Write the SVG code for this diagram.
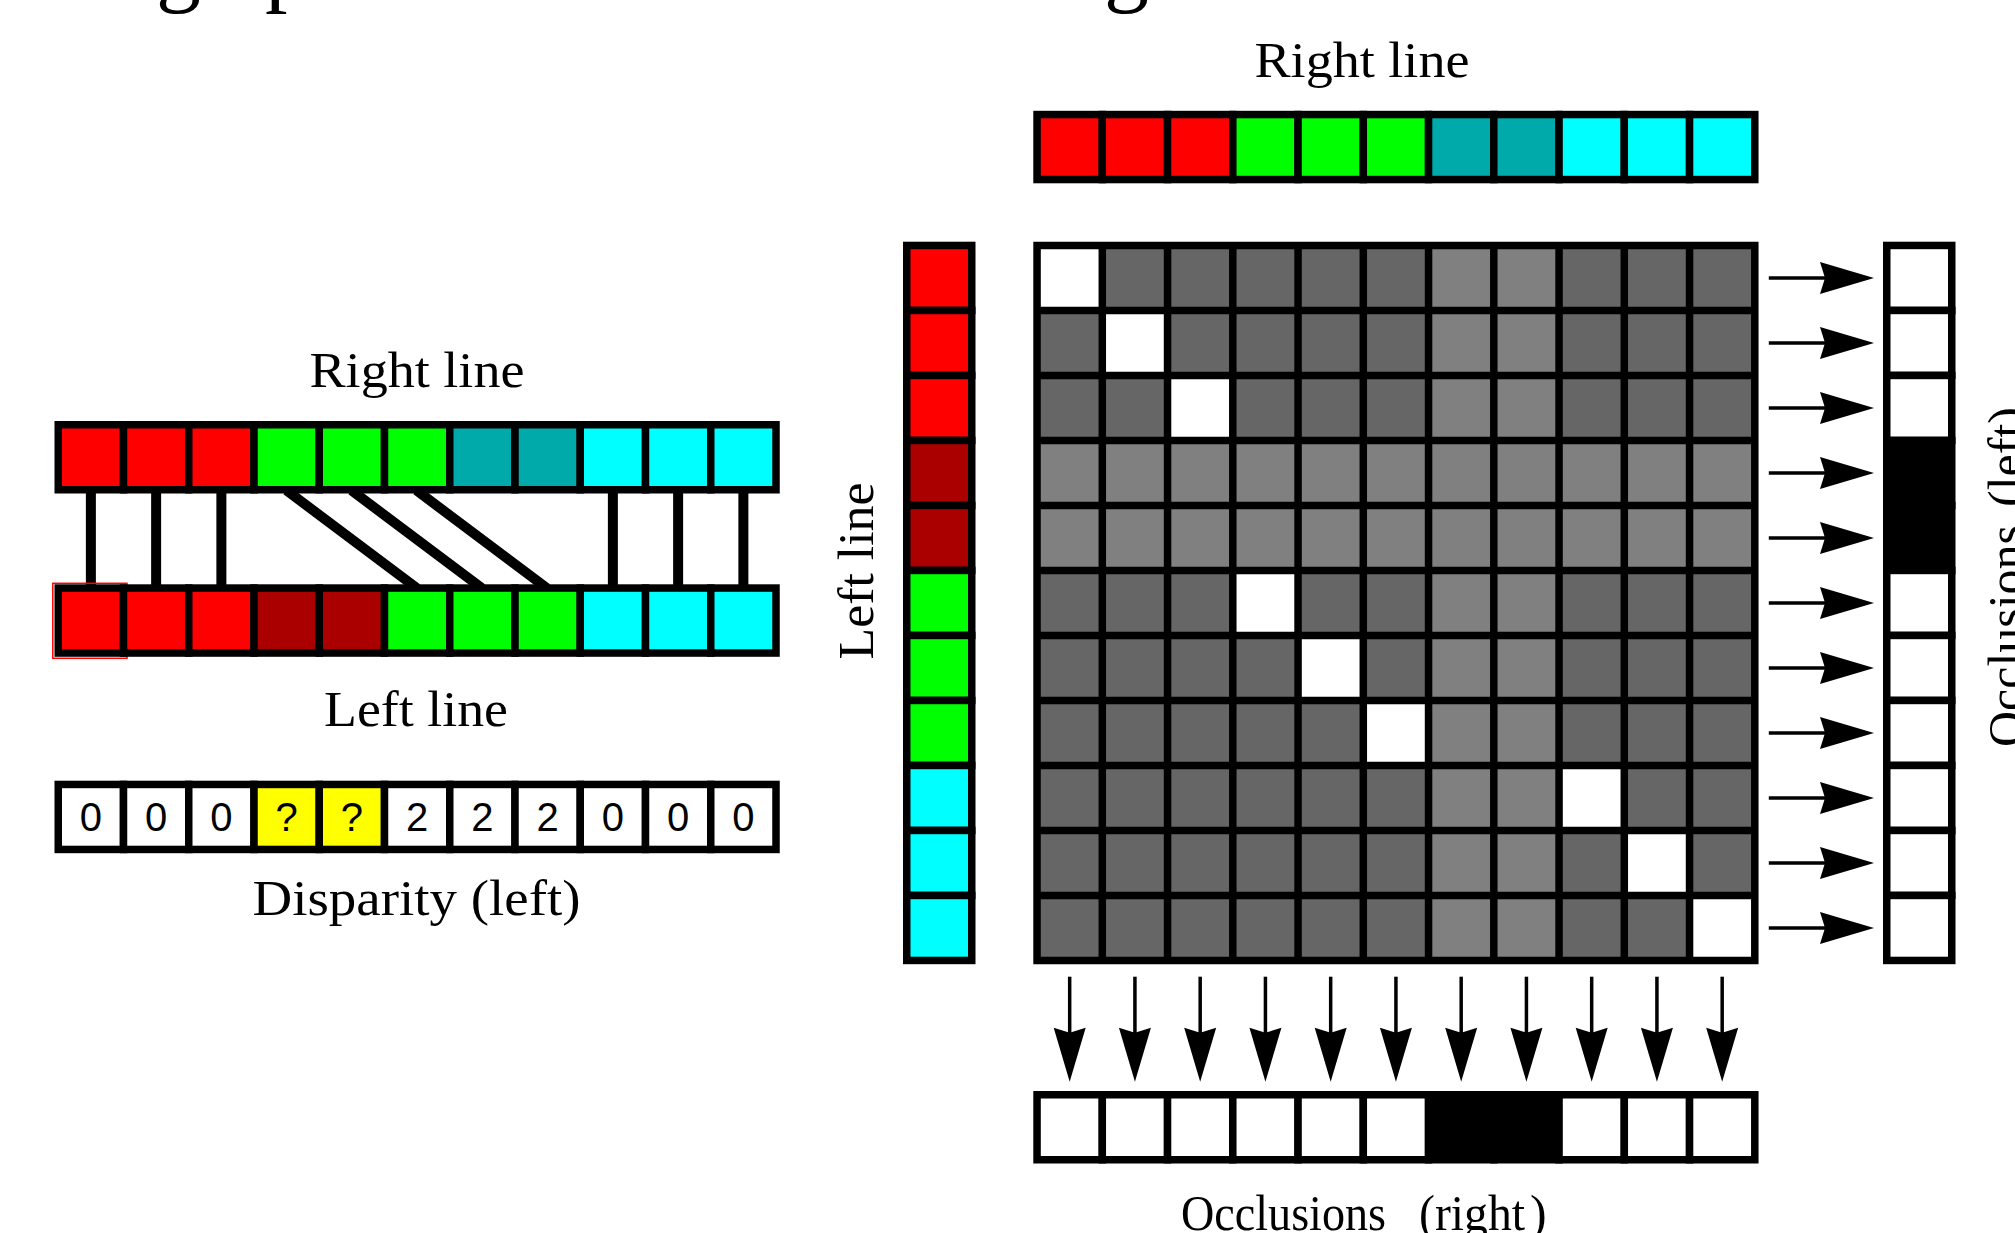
<svg xmlns="http://www.w3.org/2000/svg" width="2015" height="1233" viewBox="0 0 2015 1233">
<style>
.c{stroke:#000;stroke-width:7.5}
.R{fill:#ff0000}.G{fill:#00ff00}.T{fill:#00aaaa}.C{fill:#00ffff}.D{fill:#aa0000}
.W{fill:#ffffff}.K{fill:#000000}.Y{fill:#ffff00}
.lab{font-family:"Liberation Serif","Times New Roman",serif;font-size:50px;fill:#000}
.num{font-family:"Liberation Sans",Arial,sans-serif;font-size:40px;fill:#000;text-anchor:middle}
.link{stroke:#000;stroke-width:10;fill:none}
.arr{stroke:#000;stroke-width:3.5;fill:none}
</style>
<defs>
<marker id="ah" viewBox="-10 -18 58 36" refX="0" refY="0" markerWidth="58" markerHeight="36" markerUnits="userSpaceOnUse" orient="auto">
<path d="M46,0 L-8,-16 L-3,0 L-8,16 Z" fill="#000"/>
</marker>
</defs>
<rect width="2015" height="1233" fill="#fff"/>

<g id="title-fragments" class="lab" style="font-size:90px">
<text x="156" y="-5.5">g</text>
<text x="265" y="-5.5">p</text>
<text x="1104" y="-5.5">g</text>
</g>

<g id="connectors">
<g id="links">
<line class="link" x1="90.88" y1="490" x2="90.88" y2="590"/>
<line class="link" x1="156.13" y1="490" x2="156.13" y2="590"/>
<line class="link" x1="221.38" y1="490" x2="221.38" y2="590"/>
<line class="link" x1="286.4" y1="490.3" x2="417" y2="588.3"/>
<line class="link" x1="351.4" y1="490.3" x2="482" y2="588.3"/>
<line class="link" x1="416.4" y1="490.3" x2="547" y2="588.3"/>
<line class="link" x1="612.88" y1="490" x2="612.88" y2="590"/>
<line class="link" x1="678.13" y1="490" x2="678.13" y2="590"/>
<line class="link" x1="743.38" y1="490" x2="743.38" y2="590"/>
</g>
<g id="row-arrows" marker-end="url(#ah)">
<line class="arr" x1="1768.8" y1="277.95" x2="1828" y2="277.95"/>
<line class="arr" x1="1768.8" y1="342.95" x2="1828" y2="342.95"/>
<line class="arr" x1="1768.8" y1="407.95" x2="1828" y2="407.95"/>
<line class="arr" x1="1768.8" y1="472.95" x2="1828" y2="472.95"/>
<line class="arr" x1="1768.8" y1="537.95" x2="1828" y2="537.95"/>
<line class="arr" x1="1768.8" y1="602.95" x2="1828" y2="602.95"/>
<line class="arr" x1="1768.8" y1="667.95" x2="1828" y2="667.95"/>
<line class="arr" x1="1768.8" y1="732.95" x2="1828" y2="732.95"/>
<line class="arr" x1="1768.8" y1="797.95" x2="1828" y2="797.95"/>
<line class="arr" x1="1768.8" y1="862.95" x2="1828" y2="862.95"/>
<line class="arr" x1="1768.8" y1="927.95" x2="1828" y2="927.95"/>
</g>
<g id="col-arrows" marker-end="url(#ah)">
<line class="arr" x1="1069.68" y1="976.7" x2="1069.68" y2="1035.7"/>
<line class="arr" x1="1134.93" y1="976.7" x2="1134.93" y2="1035.7"/>
<line class="arr" x1="1200.18" y1="976.7" x2="1200.18" y2="1035.7"/>
<line class="arr" x1="1265.43" y1="976.7" x2="1265.43" y2="1035.7"/>
<line class="arr" x1="1330.68" y1="976.7" x2="1330.68" y2="1035.7"/>
<line class="arr" x1="1395.93" y1="976.7" x2="1395.93" y2="1035.7"/>
<line class="arr" x1="1461.18" y1="976.7" x2="1461.18" y2="1035.7"/>
<line class="arr" x1="1526.43" y1="976.7" x2="1526.43" y2="1035.7"/>
<line class="arr" x1="1591.68" y1="976.7" x2="1591.68" y2="1035.7"/>
<line class="arr" x1="1656.93" y1="976.7" x2="1656.93" y2="1035.7"/>
<line class="arr" x1="1722.18" y1="976.7" x2="1722.18" y2="1035.7"/>
</g>
</g>

<g id="left-right-line">
<text class="lab" x="417" y="387" text-anchor="middle" textLength="215" lengthAdjust="spacingAndGlyphs">Right line</text>
<rect class="c R" x="58.25" y="424.75" width="65.25" height="65"/>
<rect class="c R" x="123.5" y="424.75" width="65.25" height="65"/>
<rect class="c R" x="188.75" y="424.75" width="65.25" height="65"/>
<rect class="c G" x="254" y="424.75" width="65.25" height="65"/>
<rect class="c G" x="319.25" y="424.75" width="65.25" height="65"/>
<rect class="c G" x="384.5" y="424.75" width="65.25" height="65"/>
<rect class="c T" x="449.75" y="424.75" width="65.25" height="65"/>
<rect class="c T" x="515" y="424.75" width="65.25" height="65"/>
<rect class="c C" x="580.25" y="424.75" width="65.25" height="65"/>
<rect class="c C" x="645.5" y="424.75" width="65.25" height="65"/>
<rect class="c C" x="710.75" y="424.75" width="65.25" height="65"/>
</g>

<g id="left-left-line">
<rect x="52.8" y="583.3" width="74.2" height="75" fill="none" stroke="#ff0000" stroke-width="1.5"/>
<rect class="c R" x="58.25" y="588.05" width="65.25" height="65"/>
<rect class="c R" x="123.5" y="588.05" width="65.25" height="65"/>
<rect class="c R" x="188.75" y="588.05" width="65.25" height="65"/>
<rect class="c D" x="254" y="588.05" width="65.25" height="65"/>
<rect class="c D" x="319.25" y="588.05" width="65.25" height="65"/>
<rect class="c G" x="384.5" y="588.05" width="65.25" height="65"/>
<rect class="c G" x="449.75" y="588.05" width="65.25" height="65"/>
<rect class="c G" x="515" y="588.05" width="65.25" height="65"/>
<rect class="c C" x="580.25" y="588.05" width="65.25" height="65"/>
<rect class="c C" x="645.5" y="588.05" width="65.25" height="65"/>
<rect class="c C" x="710.75" y="588.05" width="65.25" height="65"/>
<text class="lab" x="416" y="726" text-anchor="middle" textLength="184" lengthAdjust="spacingAndGlyphs">Left line</text>
</g>

<g id="disparity">
<rect class="c W" x="58.25" y="784.45" width="65.25" height="65"/>
<rect class="c W" x="123.5" y="784.45" width="65.25" height="65"/>
<rect class="c W" x="188.75" y="784.45" width="65.25" height="65"/>
<rect class="c Y" x="254" y="784.45" width="65.25" height="65"/>
<rect class="c Y" x="319.25" y="784.45" width="65.25" height="65"/>
<rect class="c W" x="384.5" y="784.45" width="65.25" height="65"/>
<rect class="c W" x="449.75" y="784.45" width="65.25" height="65"/>
<rect class="c W" x="515" y="784.45" width="65.25" height="65"/>
<rect class="c W" x="580.25" y="784.45" width="65.25" height="65"/>
<rect class="c W" x="645.5" y="784.45" width="65.25" height="65"/>
<rect class="c W" x="710.75" y="784.45" width="65.25" height="65"/>
<text class="num" x="90.88" y="831">0</text>
<text class="num" x="156.13" y="831">0</text>
<text class="num" x="221.38" y="831">0</text>
<text class="num" x="286.63" y="831">?</text>
<text class="num" x="351.88" y="831">?</text>
<text class="num" x="417.13" y="831">2</text>
<text class="num" x="482.38" y="831">2</text>
<text class="num" x="547.63" y="831">2</text>
<text class="num" x="612.88" y="831">0</text>
<text class="num" x="678.13" y="831">0</text>
<text class="num" x="743.38" y="831">0</text>
<text class="lab" x="416.5" y="915" text-anchor="middle" textLength="328" lengthAdjust="spacingAndGlyphs">Disparity (left)</text>
</g>

<g id="top-right-line">
<text class="lab" x="1362" y="76.7" text-anchor="middle" textLength="215" lengthAdjust="spacingAndGlyphs">Right line</text>
<rect class="c R" x="1037.05" y="114.55" width="65.25" height="65"/>
<rect class="c R" x="1102.3" y="114.55" width="65.25" height="65"/>
<rect class="c R" x="1167.55" y="114.55" width="65.25" height="65"/>
<rect class="c G" x="1232.8" y="114.55" width="65.25" height="65"/>
<rect class="c G" x="1298.05" y="114.55" width="65.25" height="65"/>
<rect class="c G" x="1363.3" y="114.55" width="65.25" height="65"/>
<rect class="c T" x="1428.55" y="114.55" width="65.25" height="65"/>
<rect class="c T" x="1493.8" y="114.55" width="65.25" height="65"/>
<rect class="c C" x="1559.05" y="114.55" width="65.25" height="65"/>
<rect class="c C" x="1624.3" y="114.55" width="65.25" height="65"/>
<rect class="c C" x="1689.55" y="114.55" width="65.25" height="65"/>
</g>

<g id="side-left-line">
<rect class="c R" x="906.75" y="245.45" width="65" height="65"/>
<rect class="c R" x="906.75" y="310.45" width="65" height="65"/>
<rect class="c R" x="906.75" y="375.45" width="65" height="65"/>
<rect class="c D" x="906.75" y="440.45" width="65" height="65"/>
<rect class="c D" x="906.75" y="505.45" width="65" height="65"/>
<rect class="c G" x="906.75" y="570.45" width="65" height="65"/>
<rect class="c G" x="906.75" y="635.45" width="65" height="65"/>
<rect class="c G" x="906.75" y="700.45" width="65" height="65"/>
<rect class="c C" x="906.75" y="765.45" width="65" height="65"/>
<rect class="c C" x="906.75" y="830.45" width="65" height="65"/>
<rect class="c C" x="906.75" y="895.45" width="65" height="65"/>
<text class="lab" transform="translate(873,571) rotate(-90)" text-anchor="middle" textLength="177" lengthAdjust="spacingAndGlyphs">Left line</text>
</g>

<g id="cost-matrix">
<rect x="1037.05" y="245.45" width="717.75" height="715" fill="#666666"/>
<rect x="1428.55" y="245.45" width="130.5" height="715" fill="#808080"/>
<rect x="1037.05" y="440.45" width="717.75" height="130" fill="#808080"/>
<rect class="W" x="1037.05" y="245.45" width="65.25" height="65"/>
<rect class="W" x="1102.3" y="310.45" width="65.25" height="65"/>
<rect class="W" x="1167.55" y="375.45" width="65.25" height="65"/>
<rect class="W" x="1232.8" y="570.45" width="65.25" height="65"/>
<rect class="W" x="1298.05" y="635.45" width="65.25" height="65"/>
<rect class="W" x="1363.3" y="700.45" width="65.25" height="65"/>
<rect class="W" x="1559.05" y="765.45" width="65.25" height="65"/>
<rect class="W" x="1624.3" y="830.45" width="65.25" height="65"/>
<rect class="W" x="1689.55" y="895.45" width="65.25" height="65"/>
<path stroke="#000" stroke-width="7.5" fill="none" d="M1037.05,241.7V964.2M1102.3,241.7V964.2M1167.55,241.7V964.2M1232.8,241.7V964.2M1298.05,241.7V964.2M1363.3,241.7V964.2M1428.55,241.7V964.2M1493.8,241.7V964.2M1559.05,241.7V964.2M1624.3,241.7V964.2M1689.55,241.7V964.2M1754.8,241.7V964.2M1033.3,245.45H1758.55M1033.3,310.45H1758.55M1033.3,375.45H1758.55M1033.3,440.45H1758.55M1033.3,505.45H1758.55M1033.3,570.45H1758.55M1033.3,635.45H1758.55M1033.3,700.45H1758.55M1033.3,765.45H1758.55M1033.3,830.45H1758.55M1033.3,895.45H1758.55M1033.3,960.45H1758.55"/>
</g>

<g id="occlusions-left">
<rect class="c W" x="1886.75" y="245.45" width="65" height="65"/>
<rect class="c W" x="1886.75" y="310.45" width="65" height="65"/>
<rect class="c W" x="1886.75" y="375.45" width="65" height="65"/>
<rect class="c K" x="1886.75" y="440.45" width="65" height="65"/>
<rect class="c K" x="1886.75" y="505.45" width="65" height="65"/>
<rect class="c W" x="1886.75" y="570.45" width="65" height="65"/>
<rect class="c W" x="1886.75" y="635.45" width="65" height="65"/>
<rect class="c W" x="1886.75" y="700.45" width="65" height="65"/>
<rect class="c W" x="1886.75" y="765.45" width="65" height="65"/>
<rect class="c W" x="1886.75" y="830.45" width="65" height="65"/>
<rect class="c W" x="1886.75" y="895.45" width="65" height="65"/>
<text class="lab" transform="translate(2023,747) rotate(-90)"><tspan x="0" textLength="222" lengthAdjust="spacingAndGlyphs">Occlusions</tspan><tspan x="240" textLength="100" lengthAdjust="spacingAndGlyphs">(left)</tspan></text>
</g>

<g id="occlusions-right">
<rect class="c W" x="1037.05" y="1094.75" width="65.25" height="65"/>
<rect class="c W" x="1102.3" y="1094.75" width="65.25" height="65"/>
<rect class="c W" x="1167.55" y="1094.75" width="65.25" height="65"/>
<rect class="c W" x="1232.8" y="1094.75" width="65.25" height="65"/>
<rect class="c W" x="1298.05" y="1094.75" width="65.25" height="65"/>
<rect class="c W" x="1363.3" y="1094.75" width="65.25" height="65"/>
<rect class="c K" x="1428.55" y="1094.75" width="65.25" height="65"/>
<rect class="c K" x="1493.8" y="1094.75" width="65.25" height="65"/>
<rect class="c W" x="1559.05" y="1094.75" width="65.25" height="65"/>
<rect class="c W" x="1624.3" y="1094.75" width="65.25" height="65"/>
<rect class="c W" x="1689.55" y="1094.75" width="65.25" height="65"/>
<text class="lab" y="1230"><tspan x="1181" textLength="205" lengthAdjust="spacingAndGlyphs">Occlusions</tspan><tspan x="1419" textLength="106" lengthAdjust="spacingAndGlyphs">(right</tspan><tspan x="1530">)</tspan></text>
</g>
</svg>
